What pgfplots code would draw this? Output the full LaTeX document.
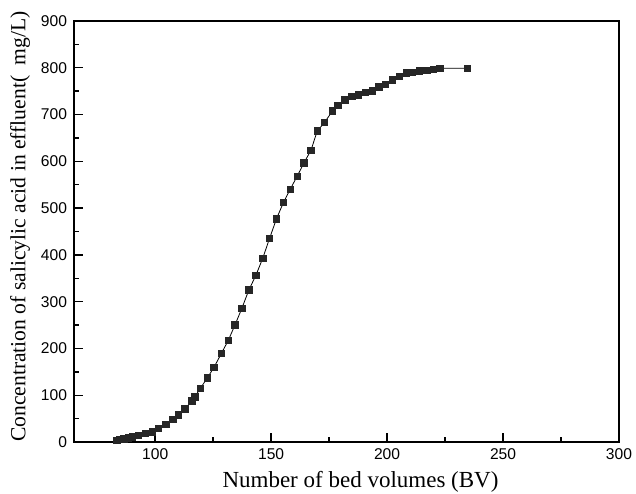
\documentclass[border=0pt]{standalone}
\usepackage{fontspec}
\setmainfont{Liberation Serif}
\newfontfamily\ticksans{Liberation Sans}
\usepackage{pgfplots}
\pgfplotsset{compat=1.18}

\pgfplotstableread{
bv    conc
83.5  3
84.5  5
85.5  6
86.5  7
87.5  8
88.5  9
90.2  11
92.8  14
95.8  18
98.7  22
101.5 29
104.6 37
107.7 48
110.0 58
112.9 71
115.8 88
117.1 96
119.5 115
122.5 137
125.4 160
128.5 189
131.5 217
134.4 250
137.4 286
140.4 325
143.4 356
146.4 393
149.3 435
152.3 477
155.3 512
158.2 540
161.2 568
164.2 597
167.2 624
169.9 665
173.0 683
176.5 708
178.8 720
181.8 731
184.8 739
187.7 742
190.6 748
193.6 751
196.4 759
199.3 765
202.3 774
205.2 782
208.2 789
211.0 790
214.0 793
217.1 795
219.9 797
222.8 799
234.6 799
}\breakthrough

\begin{document}
\begin{tikzpicture}
\begin{axis}[
  scale only axis,
  width=272.5pt,
  height=210.5pt,
  xmin=65, xmax=300,
  ymin=0, ymax=900,
  xtick={100,150,200,250,300},
  ytick={0,100,...,900},
  minor x tick num=1,
  minor y tick num=1,
  xtick pos=bottom,
  ytick pos=left,
  tick align=inside,
  major tick length=4.5pt,
  minor tick length=2.5pt,
  axis line style={line width=0.8pt},
  every tick/.style={black, line width=0.7pt},
  tick label style={font=\ticksans\fontsize{7.8}{9}\selectfont},
  /pgf/number format/assume math mode=true,
  xlabel={Number of bed volumes (BV)},
  ylabel={Concentration of salicylic acid in effluent(\ \ mg/L)},
  xlabel style={font=\fontsize{11.5}{13}\selectfont,
    at={(axis description cs:0.5,0)}, anchor=center, yshift=-20pt, xshift=7pt},
  ylabel style={font=\fontsize{10.8}{13}\selectfont,
    at={(axis description cs:0,0.5)}, anchor=center, yshift=27pt, xshift=2.5pt},
]
\addplot[black, line width=0.4pt, mark=square*, mark size=1.6pt,
  mark options={fill=black!85, draw=black!85}] table[x=bv, y=conc] {\breakthrough};
\end{axis}
\pgfresetboundingbox
\path (current axis.south west) ++(-37pt,-25.5pt) rectangle ([shift={(8.5pt,10.5pt)}]current axis.north east);
\end{tikzpicture}
\end{document}
